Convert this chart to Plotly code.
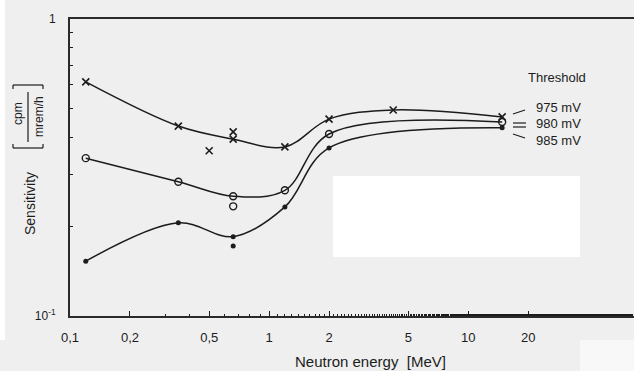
import math
import plotly.graph_objects as go

# Neutron energies (MeV) and detector sensitivities cpm/(mrem/h) per threshold
energy_975 = [0.12, 0.35, 0.66, 1.2, 2.0, 4.2, 14.8]
sens_975 = [0.614, 0.436, 0.394, 0.371, 0.460, 0.494, 0.468]

energy_980 = [0.12, 0.35, 0.66, 1.2, 2.0, 14.8]
sens_980 = [0.340, 0.283, 0.253, 0.265, 0.410, 0.450]

energy_985 = [0.12, 0.35, 0.66, 1.2, 2.0, 14.8]
sens_985 = [0.153, 0.206, 0.185, 0.233, 0.368, 0.430]

# repeated measurements not on the curves
extra_energy_975 = [0.66, 0.5]
extra_sens_975 = [0.417, 0.360]
extra_energy_980 = [0.66]
extra_sens_980 = [0.234]
extra_energy_985 = [0.66]
extra_sens_985 = [0.172]

thresholds = ["975 mV", "980 mV", "985 mV"]

x_tickvals = [0.1, 0.2, 0.5, 1, 2, 5, 10, 20]
x_ticktext = ["0,1", "0,2", "0,5", "1", "2", "5", "10", "20"]
y_tickvals = [0.1, 1]
y_ticktext = ["10<sup>-1</sup>", "1"]

W, H = 634, 371
ML, MR, MT, MB = 70, 0, 19, 55
FONT = "Liberation Sans, Arial, sans-serif"
INK = "#1c1c1c"
BG = "#efefef"


def px(x):
    return (x - ML) / (W - ML - MR)


def py(y):
    return (H - MB - y) / (H - MT - MB)


fig = go.Figure()

line_style = dict(color=INK, width=1.5, shape="spline", smoothing=1.0)

fig.add_trace(go.Scatter(x=energy_975, y=sens_975, mode="lines+markers", line=line_style,
                         marker=dict(symbol="x-thin", size=7, line=dict(color=INK, width=1.6)),
                         name=thresholds[0], showlegend=False))
fig.add_trace(go.Scatter(x=energy_980, y=sens_980, mode="lines+markers", line=line_style,
                         marker=dict(symbol="circle-open", size=7, color=INK, line=dict(width=1.4)),
                         name=thresholds[1], showlegend=False))
fig.add_trace(go.Scatter(x=energy_985, y=sens_985, mode="lines+markers", line=line_style,
                         marker=dict(symbol="circle", size=5, color=INK),
                         name=thresholds[2], showlegend=False))

fig.add_trace(go.Scatter(x=extra_energy_975, y=extra_sens_975, mode="markers",
                         marker=dict(symbol="x-thin", size=7, line=dict(color=INK, width=1.6)),
                         showlegend=False))
fig.add_trace(go.Scatter(x=extra_energy_980, y=extra_sens_980, mode="markers",
                         marker=dict(symbol="circle-open", size=7, color=INK, line=dict(width=1.4)),
                         showlegend=False))
fig.add_trace(go.Scatter(x=extra_energy_985, y=extra_sens_985, mode="markers",
                         marker=dict(symbol="circle", size=5, color=INK),
                         showlegend=False))

annotations = [
    dict(text="Threshold", x=px(557), y=py(77), xanchor="center", yanchor="middle", font=dict(size=13)),
    dict(text="Neutron energy  [MeV]", x=px(370), y=py(361), xanchor="center", yanchor="middle",
         font=dict(size=15)),
    dict(text="Sensitivity", x=px(30), y=py(204), xanchor="center", yanchor="middle", textangle=-90,
         font=dict(size=14)),
    dict(text="cpm", x=px(18), y=py(114), xanchor="center", yanchor="middle", textangle=-90,
         font=dict(size=12)),
    dict(text="mrem/h", x=px(39), y=py(117), xanchor="center", yanchor="middle", textangle=-90,
         font=dict(size=12)),
]
for label, ypix in zip(thresholds, [108, 124, 140]):
    annotations.append(dict(text=label, x=px(534), y=py(ypix), xanchor="left", yanchor="middle",
                            font=dict(size=13)))
for a in annotations:
    a.update(xref="paper", yref="paper", showarrow=False)
    a["font"].update(family=FONT, color=INK)


def seg(x0, y0, x1, y1, w=1.2, color=INK):
    return dict(type="line", xref="paper", yref="paper", x0=px(x0), y0=py(y0), x1=px(x1), y1=py(y1),
                line=dict(color=color, width=w), layer="above")


shapes = [
    # blank patch inside the plot area and page margins
    dict(type="rect", xref="paper", yref="paper", x0=px(333), y0=py(176), x1=px(580), y1=py(257),
         fillcolor="#ffffff", line=dict(width=0), layer="above"),
    dict(type="rect", xref="paper", yref="paper", x0=px(580), y0=py(340), x1=px(634), y1=py(371),
         fillcolor="#f8f8f8", line=dict(width=0), layer="above"),
    dict(type="rect", xref="paper", yref="paper", x0=px(0), y0=py(0), x1=px(5), y1=py(340),
         fillcolor="#ffffff", line=dict(width=0), layer="above"),
    # leader lines from the threshold labels
    seg(513, 114, 525, 110),
    seg(513, 123, 526, 123),
    seg(513, 127, 526, 127),
    seg(513, 134, 525, 138),
    # unit bracket and fraction bar
    seg(13, 85, 43, 85), seg(13, 85, 13, 89), seg(43, 85, 43, 89),
    seg(13, 148, 43, 148), seg(13, 148, 13, 144), seg(43, 148, 43, 144),
    seg(28, 92, 28, 142, w=1.2),
]

fig.update_layout(
    width=W, height=H,
    margin=dict(l=ML, r=MR, t=MT, b=MB, pad=0),
    paper_bgcolor=BG, plot_bgcolor=BG,
    font=dict(family=FONT, color=INK, size=12),
    annotations=annotations, shapes=shapes,
    showlegend=False,
)

fig.update_xaxes(
    type="log", range=[-1, math.log10(68)],
    tickvals=x_tickvals, ticktext=x_ticktext,
    ticks="inside", ticklen=5, tickwidth=1.2, tickcolor=INK,
    minor=dict(ticks="inside", ticklen=2, tickwidth=1, tickcolor=INK, showgrid=False),
    showline=True, linecolor="#2a2a2a", linewidth=2, mirror=True,
    showgrid=False, zeroline=False, ticklabelstandoff=8,
    tickfont=dict(size=13),
)
fig.update_yaxes(
    type="log", range=[-1, 0],
    tickvals=y_tickvals, ticktext=y_ticktext,
    ticks="",
    minor=dict(ticks="inside", ticklen=3, tickwidth=1.2, tickcolor=INK, showgrid=False,
               tickvals=[0.2, 0.3, 0.4, 0.5, 0.6, 0.7, 0.8, 0.9]),
    showline=True, linecolor="#2a2a2a", linewidth=2,
    showgrid=False, zeroline=False, ticklabelstandoff=10,
    tickfont=dict(size=12),
)

fig.write_html("out.html")
